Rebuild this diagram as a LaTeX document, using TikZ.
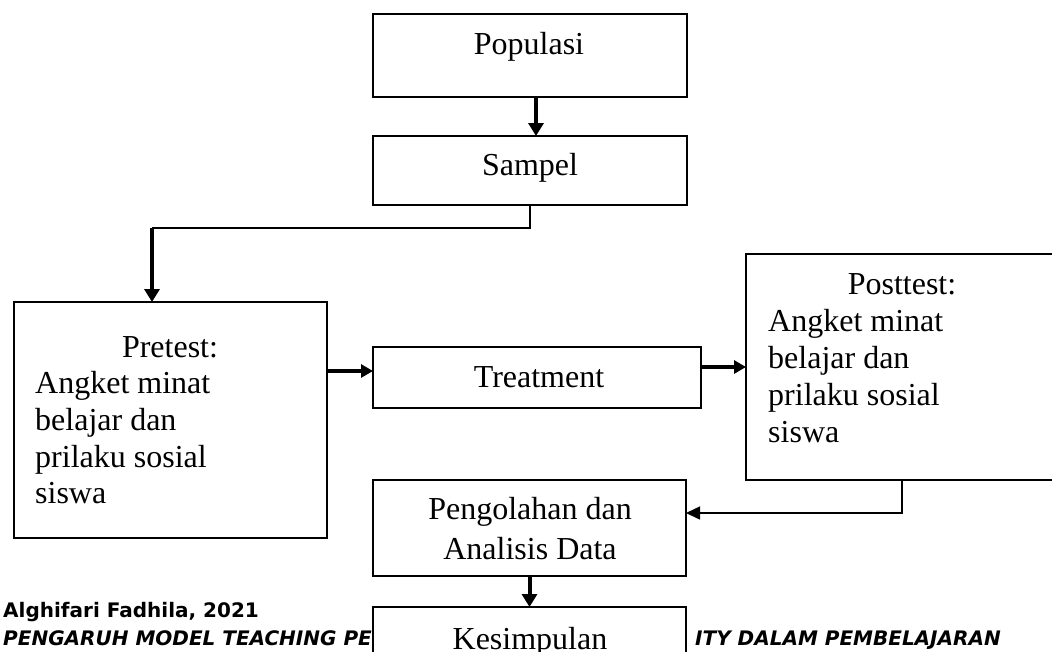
\documentclass[tikz,border=0pt]{standalone}
\usepackage{fontspec}
\setmainfont{Liberation Serif}
\newfontfamily\footfont{DejaVu Sans}
\usetikzlibrary{arrows.meta}
\begin{document}
\begin{tikzpicture}[x=1pt,y=-1pt,
  box/.style={draw, line width=2.5pt, fill=white, inner sep=0pt, outer sep=0pt},
  txt/.style={inner sep=0pt, font=\fontsize{32}{37}\selectfont},
  foot/.style={inner sep=0pt, font=\footfont\bfseries\fontsize{20}{24}\selectfont},
  arr/.style={line width=4pt, -{Triangle[width=15pt,length=13pt]}},
  arrs/.style={line width=3.5pt, -{Triangle[width=13pt,length=12pt]}},
  thinln/.style={line width=1.5pt},
  thinarr/.style={line width=1.5pt, -{Triangle[width=13pt,length=14pt]}}]
\useasboundingbox (0,0) rectangle (1052,651);
\fill[white] (0,0) rectangle (1052,651);
% footer
\node[foot, anchor=base west] (f1) at (3,617) {Alghifari Fadhila, 2021};
\node[foot, anchor=base west] (f2) at (3,645) {\itshape PENGARUH MODEL TEACHING PE};
\node[foot, anchor=base west] (f3) at (695,645) {\itshape ITY DALAM PEMBELAJARAN};
% boxes
\node[box, minimum width=314, minimum height=83] (pop) at (530,55.5) {};
\node[box, minimum width=314, minimum height=69] (samp) at (530,170.5) {};
\node[box, minimum width=313, minimum height=236] (pre) at (170.5,420) {};
\node[box, minimum width=328, minimum height=61] (treat) at (537,377.5) {};
\node[box, minimum width=312, minimum height=226] (post) at (902,367) {};
\node[box, minimum width=313, minimum height=96] (peng) at (529.5,528) {};
\node[box, minimum width=313, minimum height=93] (kes) at (529.5,653.5) {};
% texts
\node[txt, anchor=base] (popT) at (529,54) {Populasi};
\node[txt, anchor=base] (sampT) at (530,175) {Sampel};
\node[txt, anchor=base] (preT) at (170,357) {Pretest:};
\node[txt, anchor=base west] (preA) at (35,393) {Angket minat};
\node[txt, anchor=base west] (preB) at (35,430) {belajar dan};
\node[txt, anchor=base west] (preC) at (35,467) {prilaku sosial};
\node[txt, anchor=base west] (preD) at (35,503) {siswa};
\node[txt, anchor=base] (treatT) at (539,387) {Treatment};
\node[txt, anchor=base] (postT) at (902,294) {Posttest:};
\node[txt, anchor=base west] (postA) at (768,331) {Angket minat};
\node[txt, anchor=base west] (postB) at (768,368) {belajar dan};
\node[txt, anchor=base west] (postC) at (768,405) {prilaku sosial};
\node[txt, anchor=base west] (postD) at (768,442) {siswa};
\node[txt, anchor=base] (pengA) at (530,519) {Pengolahan dan};
\node[txt, anchor=base] (pengB) at (530,559) {Analisis Data};
\node[txt, anchor=base] (kesT) at (530,649) {Kesimpulan};
% connectors
\draw[arr] ([xshift=6pt]pop.south) -- ([xshift=6pt]samp.north);
\coordinate (bend1) at (152,228);
\draw[thinln] (samp.south) -- (samp.south |- bend1) -- (bend1);
\draw[arr] (bend1) -- (pre.north -| bend1);
\coordinate (pt) at (0,371);
\draw[arrs] (pre.east |- pt) -- (treat.west |- pt);
\draw[arrs] (treat.east |- post.west) -- (post.west);
\coordinate (bend2) at (902,513);
\draw[thinarr] (post.south) -- (bend2) -- (peng.east |- bend2);
\draw[arr] (peng.south) -- (kes.north);
\end{tikzpicture}
\end{document}
